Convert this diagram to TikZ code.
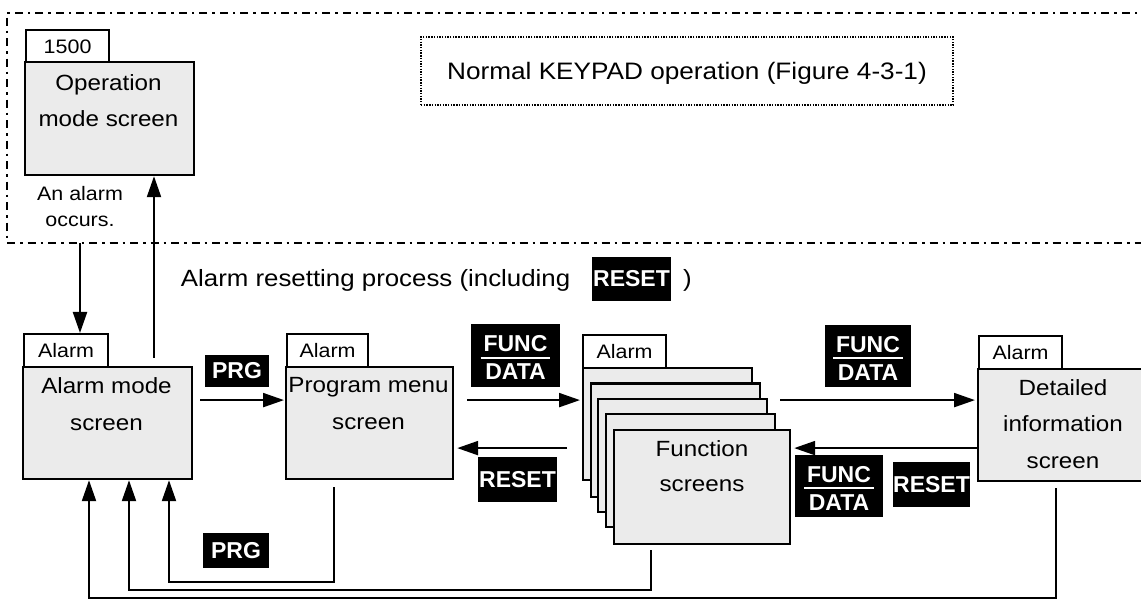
\documentclass[tikz,border=0pt]{standalone}
\usepackage{fontspec}
\setmainfont{Liberation Sans}[FakeStretch=1.1]
\newfontfamily\keyfam{Liberation Sans}
\usetikzlibrary{arrows.meta,calc}
\definecolor{scr}{gray}{0.92}
\setlength\arrayrulewidth{1.6pt}
\newcommand\fdtext{\begin{tabular}[t]{@{\hspace{3pt}}c@{\hspace{3pt}}}FUNC\\[-3pt]\hline\rule{0pt}{21pt}DATA\end{tabular}}
\begin{document}
\begin{tikzpicture}[x=1pt,y=-1pt,
  scrbox/.style={draw, line width=2.2pt, fill=scr, anchor=north west, inner sep=0pt},
  tabbox/.style={draw, line width=2.2pt, fill=white, anchor=north west, inner sep=0pt, font=\fontsize{19.5}{22}\selectfont},
  scrtext/.style={anchor=north, align=center, inner sep=0pt, font=\fontsize{22}{36.7}\selectfont},
  key/.style={fill=black, text=white, inner sep=0pt, font=\keyfam\bfseries\fontsize{23}{27.5}\selectfont},
  fdkey/.style={key, text height=18pt, text depth=25.6pt},
  arr/.style={line width=2.2pt, -{Triangle[length=21pt,width=14pt]}},
  framedd/.style={line width=2.2pt, dash pattern=on 8pt off 5pt on 2.5pt off 5pt},
]
\useasboundingbox (0,0) rectangle (1141,601);

% dash-dot frame
\coordinate (fr1) at (1150,12.7);
\coordinate (fr2) at (7,12.7);
\coordinate (fr3) at (7,243);
\coordinate (fr4) at (1150,243);
\draw[framedd] (fr1) -- (fr2) -- (fr3) -- (fr4);

% normal keypad box
\node[draw, line width=1.4pt, dash pattern=on 1.4pt off 1.3pt, minimum width=532pt, minimum height=68pt,
      text height=17pt, text depth=0pt, inner sep=0pt, font=\fontsize{23.8}{28}\selectfont] (normal) at (687,71)
      {Normal KEYPAD operation (Figure 4-3-1)};

% operation mode screen
\node[tabbox, minimum width=83pt, minimum height=33pt] (optab) at (25,29) {1500};
\node[scrbox, minimum width=169pt, minimum height=113pt] (op) at (24,61) {};
\node[scrtext] (optext) at (108.5,74) {Operation\\mode screen};
\node[anchor=north, align=center, inner sep=0pt, font=\fontsize{19.5}{26}\selectfont] (occ) at (80,186) {An alarm\\occurs.};

% title
\node[anchor=base west, inner sep=0pt, font=\fontsize{23.5}{28}\selectfont] (title) at (180.7,287) {Alarm resetting process (including};
\node[key, minimum width=79pt, minimum height=44pt] (rs0) at (631.5,279) {RESET};
\node[anchor=base west, inner sep=0pt, font=\fontsize{23.5}{28}\selectfont] (titleend) at (683,287) {)};

% alarm mode screen
\node[tabbox, minimum width=84pt, minimum height=33pt] (altab) at (23,333) {Alarm};
\node[scrbox, minimum width=169pt, minimum height=112pt] (alarm) at (22,366) {};
\node[scrtext] (altext) at (106.5,377.5) {Alarm mode\\screen};

% program menu screen
\node[tabbox, minimum width=81pt, minimum height=33pt] (prtab) at (286,333) {Alarm};
\node[scrbox, minimum width=167pt, minimum height=112pt] (prog) at (285,366) {};
\node[scrtext] (prtext) at (368.5,377.5) {Program menu\\screen};

% function screens stack
\node[tabbox, minimum width=83pt, minimum height=33pt] (fstab) at (582,334) {Alarm};
\node[scrbox, minimum width=169pt, minimum height=112pt] (fs1) at (582,367) {};
\node[scrbox, minimum width=169pt, minimum height=113pt] (fs2) at (589.5,382.5) {};
\node[scrbox, minimum width=169pt, minimum height=113pt] (fs3) at (597,398) {};
\node[scrbox, minimum width=169pt, minimum height=113pt] (fs4) at (605,413) {};
\node[scrbox, minimum width=176pt, minimum height=114pt] (fs5) at (613,429) {};
\node[scrtext, font=\fontsize{22}{35.7}\selectfont] (fstext) at (702,440) {Function\\screens};

% detailed information screen
\node[tabbox, minimum width=83pt, minimum height=33pt] (dttab) at (978,335) {Alarm};
\node[scrbox, minimum width=175pt, minimum height=112pt] (det) at (977,368) {};
\node[scrtext] (dttext) at (1063,379) {Detailed\\information\\screen};

% keys
\node[key, minimum width=64pt, minimum height=32pt] (prg1) at (237,371) {PRG};
\node[key, minimum width=66pt, minimum height=35pt] (prg2) at (236,550.5) {PRG};
\node[fdkey, minimum width=89pt, minimum height=63pt] (fd1) at (515.5,355.5) {\fdtext};
\node[key, minimum width=79pt, minimum height=45pt] (rs1) at (517.5,479.5) {RESET};
\node[fdkey, minimum width=86pt, minimum height=62pt] (fd2) at (868,356) {\fdtext};
\node[fdkey, minimum width=88pt, minimum height=62pt] (fd3) at (839,486) {\fdtext};
\node[key, minimum width=77pt, minimum height=45pt] (rs2) at (931.5,484.5) {RESET};

% connectors
\coordinate (alsrc) at (80,243);
\draw[arr] (alsrc) -- (alsrc |- altab.north);
\coordinate (upsrc) at (154,358);
\draw[arr] (upsrc) -- (upsrc |- op.south);

\draw[arr] ($(alarm.east)+(7,-23)$) -- ($(prog.west)+(-1,-23)$);
\draw[arr] ($(prog.east)+(13,-23)$) -- ($(fs1.west)+(-2,-24)$);
\draw[arr] ($(fs1.west)+(-15,24)$) -- ($(prog.east)+(3,25)$);
\draw[arr] ($(fs1.east)+(27,-24)$) -- ($(det.west)+(-2,-25)$);
\draw[arr] ($(det.west)+(0,23)$) -- ($(fs5.east)+(3,-39)$);

% return paths to alarm mode screen
\coordinate (b1) at (334,487);
\coordinate (r1) at (169,582);
\draw[arr] (b1) -- (b1 |- r1) -- (r1) -- (r1 |- alarm.south);
\coordinate (b2) at (651,550);
\coordinate (r2) at (129,590);
\draw[arr] (b2) -- (b2 |- r2) -- (r2) -- (r2 |- alarm.south);
\coordinate (b3) at (1056,488);
\coordinate (r3) at (89,598);
\draw[arr] (b3) -- (b3 |- r3) -- (r3) -- (r3 |- alarm.south);
\end{tikzpicture}
\end{document}
